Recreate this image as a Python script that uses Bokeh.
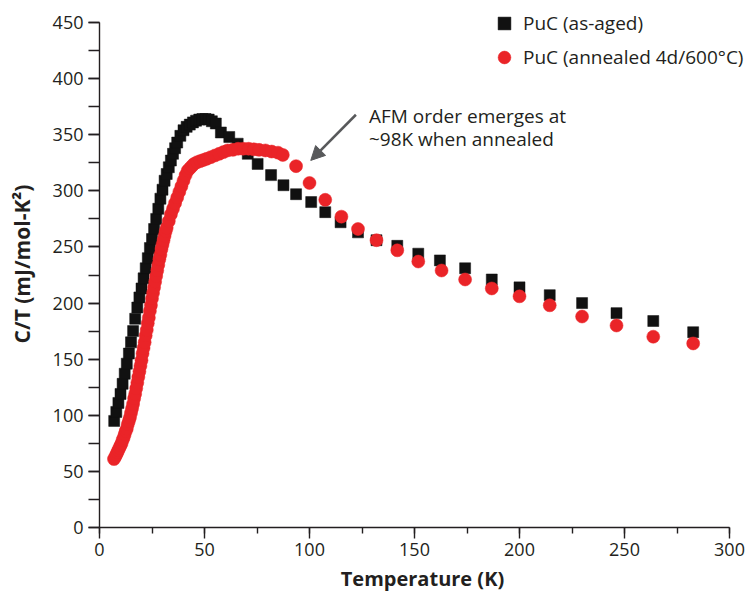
from bokeh.plotting import figure
from bokeh.models import (Range1d, SingleIntervalTicker, Legend, Label, Arrow, NormalHead)
from bokeh.embed import file_html
from bokeh.resources import INLINE

# ---- data ----
T_aged = [7, 8, 9, 10, 11, 12, 13, 14, 15, 16, 17, 18, 19, 20, 21, 22, 23, 24, 25, 26,
          27, 28, 29, 30, 31, 32, 33, 34, 35, 36, 37, 38.5, 40, 41.5, 43, 44.5, 46, 47.5,
          49, 50.5, 52, 53.5, 55.4, 57.8, 61.8, 65.8, 70.6, 75.3, 81.7, 87.6, 93.6, 100.8,
          107.5, 114.8, 123.1, 131.9, 141.8, 151.8, 162.1, 174.1, 186.8, 200, 214.4, 229.8,
          246.2, 263.7, 282.7]
CT_aged = [95, 103, 111, 119, 128, 137, 146, 155, 165, 175, 186, 196, 205, 213, 222, 231,
           240, 249, 257, 266, 275, 284, 293, 301, 309, 315, 321, 327, 333, 338, 343, 349,
           354, 357, 359, 361, 362.5, 363.5, 364, 364, 363.5, 362, 360, 352, 348, 342, 333,
           324, 314, 305, 297, 290, 281, 272, 263, 256, 251, 244, 238, 231, 221, 214, 207,
           200, 191, 184, 174]

T_ann = [6.9, 7.5, 8, 8.5, 9, 9.5, 10, 10.5, 11, 11.5, 12, 12.5, 13, 13.5, 14, 14.5, 15,
         15.5, 16, 16.5, 17, 17.5, 18, 18.5, 19, 19.5, 20, 20.5, 21, 21.5, 22, 22.5, 23,
         23.5, 24, 24.5, 25, 25.5, 26, 26.5, 27, 27.5, 28, 28.5, 29, 29.5, 30, 30.5, 31,
         31.5, 32, 33, 34, 35, 36, 37, 38, 39, 40, 41, 42, 43, 44, 45, 46.5, 48, 49.5, 51,
         53, 55, 57, 59, 61, 63.5, 66, 68.5, 71, 73.5, 76, 79, 82, 85, 87.3, 93.6, 100,
         107.5, 115.2, 123.1, 131.9, 141.8, 151.8, 162.9, 174.1, 186.8, 200, 214.4, 229.8,
         246.2, 263.7, 282.7]
CT_ann = [61, 63, 65, 67, 69, 71, 73, 75, 78, 80, 83, 86, 88, 92, 95, 98, 102, 106, 110,
          115, 119, 124, 129, 134, 139, 144, 149, 155, 160, 165, 171, 176, 182, 187, 193,
          198, 204, 209, 214, 219, 224, 229, 234, 239, 243, 248, 252, 256, 260, 264, 267,
          273, 279, 284, 289, 294, 299, 304, 309, 314, 318, 320, 322, 324, 325.5, 326.5,
          327.5, 328.5, 330, 331.5, 333, 334.5, 336, 336.5, 337.5, 337.5, 337.5, 337, 336.5,
          336, 335, 334, 332, 322, 307, 292, 277, 266, 256, 247, 237, 229, 221, 213, 206,
          198, 188, 180, 170, 164]

series_labels = ["PuC (as-aged)", "PuC (annealed 4d/600°C)"]
x_label = "Temperature (K)"
y_label = "C/T (mJ/mol-K²)"
note_lines = ["AFM order emerges at", "~98K when annealed"]
arrow_from = (122.1, 367.8)
arrow_to = (100.6, 327.1)
note_pos = (128.3, 366.7, 346.6)
x_axis_bounds = (0, 300)
y_axis_bounds = (0, 450)

INK = "#231f20"
FONT = "Open Sans"

# frame spans to the right and top edges of the canvas; the axes stop at 300 / 450
px_per_x = 630.0 / 300.0
px_per_y = 505.0 / 450.0
x_end = 300 + 16 / px_per_x
y_end = 450 + 22 / px_per_y

p = figure(width=745, height=595, output_backend="svg", toolbar_location=None,
           x_range=Range1d(0, x_end), y_range=Range1d(0, y_end),
           min_border_left=99, min_border_right=0, min_border_top=0,
           min_border_bottom=68)
p.outline_line_color = None
p.xgrid.visible = False
p.ygrid.visible = False
p.background_fill_color = "white"
p.border_fill_color = "white"

r_black = p.scatter(T_aged, CT_aged, marker="square", size=11,
                    fill_color="#111111", line_color="#111111", line_width=0.5)
r_red = p.scatter(T_ann, CT_ann, marker="circle", size=13,
                  fill_color="#ea2428", line_color="#ea2428", line_width=0.5)

for ax, tick_out, minor_out, bnds in ((p.xaxis[0], 11, 6, x_axis_bounds),
                                      (p.yaxis[0], 11, 11, y_axis_bounds)):
    ax.bounds = bnds
    ax.ticker = SingleIntervalTicker(interval=50, num_minor_ticks=2)
    ax.axis_line_color = INK
    ax.axis_line_width = 1.4
    ax.major_tick_line_color = INK
    ax.minor_tick_line_color = INK
    ax.major_tick_line_width = 1.4
    ax.minor_tick_line_width = 1.4
    ax.major_tick_in = 0
    ax.minor_tick_in = 0
    ax.major_tick_out = tick_out
    ax.minor_tick_out = minor_out
    ax.major_label_text_font = FONT
    ax.major_label_text_font_size = "18px"
    ax.major_label_text_color = INK
    ax.axis_label_text_font = FONT
    ax.axis_label_text_font_style = "bold"
    ax.axis_label_text_font_size = "21px"
    ax.axis_label_text_color = INK

p.xaxis.major_label_standoff = 4
p.yaxis.major_label_standoff = 5
p.yaxis.axis_label = y_label
p.yaxis.axis_label_standoff = 14
p.xaxis.axis_label = x_label
p.xaxis.axis_label_standoff = 6
p.xaxis.axis_label_text_font_size = "20px"
p.xaxis.major_label_text_line_height = 0.8
p.xaxis.axis_label_text_line_height = 0.8

for txt, yv in zip(note_lines, note_pos[1:]):
    p.add_layout(Label(x=note_pos[0], y=yv, text=txt, text_font=FONT,
                       text_font_size="19px", text_color=INK,
                       text_align="left", text_baseline="alphabetic"))

p.add_layout(Arrow(x_start=arrow_from[0], y_start=arrow_from[1],
                   x_end=arrow_to[0], y_end=arrow_to[1],
                   line_color="#58595b", line_width=2.5,
                   end=NormalHead(size=14, fill_color="#58595b", line_color="#58595b")))

legend = Legend(items=[(series_labels[0], [r_black]), (series_labels[1], [r_red])],
                location=(389, 454), glyph_width=32, glyph_height=32, spacing=2,
                padding=0, margin=0, label_standoff=3, border_line_color=None,
                background_fill_alpha=0, label_text_font=FONT,
                label_text_font_size="19px", label_text_color=INK)
p.add_layout(legend)

open("out.html", "w").write(file_html(p, INLINE))
